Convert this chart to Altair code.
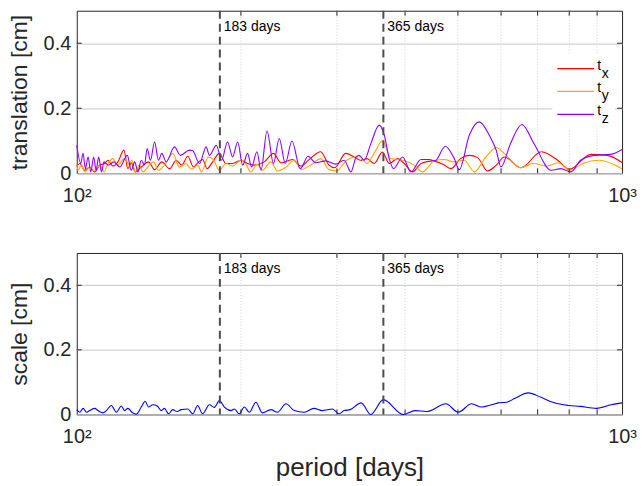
import altair as alt
import pandas as pd

FONT = "Liberation Sans"
W, H1, H2 = 547, 163, 162

# ---------------- data ----------------
tx_period = [100, 101.3, 103.4, 105.6, 107.9, 110.2, 112.5, 114.1, 116.5, 119.0, 122.0, 124.1, 125.9, 128.0,
             131.3, 135.4, 138.9, 143.2, 148.0, 152.2, 155.8, 159.8, 163.7, 166.6, 170.1, 173.4, 177.5, 182.6,
             187.7, 193.1, 200.1, 205.7, 211.6, 220.8, 229.5, 236.8, 248.7, 257.6, 266.7, 280.1, 290.2, 297.2,
             311.3, 322.8, 331.3, 340.5, 351.1, 363.6, 374.1, 387.5, 398.6, 412.9, 427.8, 449.3, 468.6, 485.5,
             505.6, 524.6, 543.4, 566.8, 588.0, 608.2, 652.6, 711.2, 761.8, 800.2, 876.5, 939.2, 1000]
tx_value = [0.022, 0.030, 0.009, 0.019, 0.004, 0.025, 0.030, 0.040, 0.022, 0.035, 0.071, 0.014, 0.032, 0.004,
            0.019, 0.035, 0.011, 0.035, 0.014, 0.040, 0.025, 0.052, 0.019, 0.032, 0.042, 0.014, 0.035, 0.061,
            0.030, 0.030, 0.040, 0.030, 0.025, 0.035, 0.061, 0.032, 0.042, 0.022, 0.042, 0.066, 0.025, 0.017,
            0.061, 0.050, 0.040, 0.045, 0.030, 0.065, 0.030, 0.045, 0.030, 0.004, 0.030, 0.038, 0.028, 0.014,
            0.045, 0.055, 0.048, 0.007, 0.025, 0.050, 0.017, 0.066, 0.040, 0.012, 0.058, 0.055, 0.033]

ty_period = [100, 100.5, 102.0, 103.4, 105.6, 107.9, 110.2, 112.2, 114.1, 116.5, 118.7, 122.4, 124.5, 126.2,
             128.0, 130.4, 132.2, 135.4, 138.3, 141.2, 144.8, 150.0, 154.2, 158.6, 162.4, 166.6, 169.4, 174.3,
             178.3, 182.6, 187.7, 193.1, 200.1, 204.3, 208.5, 214.3, 218.9, 227.0, 233.4, 242.0, 250.5, 258.2,
             268.6, 280.1, 290.2, 299.8, 312.6, 325.4, 331.3, 340.5, 351.1, 363.6, 376.8, 395.8, 412.9, 430.7,
             452.2, 472.0, 492.3, 513.6, 535.8, 562.9, 588.0, 608.2, 652.6, 687.3, 727.0, 763.4, 803.6, 847.0,
             907.8, 1000]
ty_value = [0.030, 0.009, 0.025, 0.004, 0.019, 0.007, 0.025, 0.004, 0.030, 0.045, 0.025, 0.045, 0.028, 0.040,
            0.004, 0.025, 0.004, 0.022, 0.035, 0.009, 0.025, 0.061, 0.019, 0.030, 0.012, 0.025, 0.004, 0.050,
            0.040, 0.009, 0.030, 0.022, 0.040, 0.028, 0.004, 0.028, 0.009, 0.035, 0.007, 0.019, 0.040, 0.011,
            0.025, 0.045, 0.011, 0.007, 0.040, 0.050, 0.050, 0.030, 0.062, 0.100, 0.045, 0.040, 0.028, 0.004,
            0.038, 0.042, 0.035, 0.040, 0.004, 0.050, 0.079, 0.061, 0.017, 0.030, 0.022, 0.032, 0.009, 0.030,
            0.040, 0.014]

tz_period = [100, 101.7, 102.7, 103.7, 104.9, 106.1, 107.4, 108.5, 109.7, 111.0, 112.2, 114.1, 117.0, 119.9,
             123.8, 125.9, 127.7, 129.5, 131.3, 133.1, 134.6, 136.5, 138.9, 141.2, 143.2, 145.9, 151.1, 154.9,
             161.0, 163.2, 167.9, 172.7, 175.1, 180.3, 184.3, 189.0, 193.1, 197.3, 201.5, 205.7, 209.2, 214.0,
             217.7, 223.3, 229.5, 235.1, 241.2, 248.1, 256.9, 265.6, 274.3, 286.1, 298.5, 309.3, 318.2, 325.4,
             329.6, 336.6, 346.2, 358.6, 366.4, 374.1, 381.0, 395.8, 410.1, 427.8, 443.1, 453.9, 474.1, 492.3,
             502.9, 524.6, 547.3, 570.8, 588.0, 599.7, 623.9, 655.0, 690.0, 741.0, 771.9, 805.5, 839.5, 888.8,
             952.8, 1000]
tz_value = [0.086, 0.030, 0.061, 0.014, 0.050, 0.004, 0.050, 0.009, 0.050, 0.004, 0.035, 0.025, 0.035, 0.019,
            0.055, 0.009, 0.035, 0.004, 0.040, 0.025, 0.076, 0.040, 0.096, 0.040, 0.061, 0.035, 0.081, 0.055,
            0.071, 0.069, 0.030, 0.081, 0.055, 0.086, 0.040, 0.096, 0.050, 0.096, 0.025, 0.061, 0.019, 0.066,
            0.009, 0.130, 0.030, 0.107, 0.030, 0.099, 0.014, 0.052, 0.032, 0.038, 0.028, 0.040, 0.004, 0.050,
            0.055, 0.040, 0.091, 0.148, 0.117, 0.045, 0.014, 0.050, 0.004, 0.042, 0.042, 0.038, 0.083, 0.045,
            0.011, 0.117, 0.158, 0.117, 0.070, 0.019, 0.090, 0.150, 0.090, 0.009, 0.014, 0.004, 0.040, 0.055,
            0.058, 0.073]

scale_period = [100, 101.3, 102.7, 104.2, 105.6, 107.9, 109.4, 111.7, 113.3, 115.7, 118.2, 120.7, 122.4, 124.1,
                126.2, 128.6, 131.3, 133.5, 135.4, 137.9, 140.5, 142.9, 144.8, 147.3, 150.0, 152.8, 155.4, 159.8,
                163.2, 166.6, 170.1, 175.1, 178.8, 182.6, 186.5, 191.9, 194.5, 198.6, 202.9, 207.2, 213.1, 218.9,
                227.0, 233.4, 242.0, 250.5, 261.2, 272.4, 282.1, 294.3, 302.8, 309.3, 317.2, 332.2, 346.2, 364.8,
                397.0, 417.1, 438.2, 475.2, 500.7, 529.8, 552.6, 576.4, 593.0, 614.2, 636.4, 673.0, 710.2, 751.3,
                796.9, 837.5, 897.5, 955.3, 1000]
scale_value = [0.015, 0.007, 0.019, 0.007, 0.012, 0.019, 0.012, 0.005, 0.012, 0.028, 0.007, 0.026, 0.012, 0.019,
               0.007, 0.001, 0.023, 0.041, 0.023, 0.030, 0.026, 0.012, 0.019, 0.002, 0.015, 0.009, 0.015, 0.017,
               0.002, 0.028, 0.002, 0.030, 0.022, 0.043, 0.023, 0.012, 0.017, 0.002, 0.023, 0.007, 0.038, 0.005,
               0.015, 0.007, 0.033, 0.012, 0.007, 0.019, 0.012, 0.017, 0.002, 0.012, 0.015, 0.036, 0.000, 0.046,
               0.000, 0.012, 0.009, 0.033, 0.007, 0.033, 0.023, 0.030, 0.036, 0.038, 0.050, 0.067, 0.053, 0.036,
               0.028, 0.025, 0.019, 0.030, 0.036]

series_names = ["tx", "ty", "tz"]
series_subs = ["x", "y", "z"]
series_colors = ["#ff0000", "#ffa500", "#8f00ff"]
scale_color = "#0000ff"

minor_periods = [200, 300, 400, 500, 600, 700, 800, 900]
event_periods = [183, 365]
event_labels = ["183 days", "365 days"]
y_tick_values = [0, 0.2, 0.4]
x_tick_values = [100, 1000]

# ---------------- tables ----------------
top_df = pd.concat([
    pd.DataFrame({"period": tx_period, "value": tx_value, "series": "tx"}),
    pd.DataFrame({"period": ty_period, "value": ty_value, "series": "ty"}),
    pd.DataFrame({"period": tz_period, "value": tz_value, "series": "tz"}),
], ignore_index=True)
bot_df = pd.DataFrame({"period": scale_period, "value": scale_value})
minor_df = pd.DataFrame({"period": minor_periods})
event_df = pd.DataFrame({"period": event_periods, "label": event_labels})
ytick_df = pd.DataFrame({"value": [v for v in y_tick_values if v > 0]})
one = pd.DataFrame({"a": [0]})

xscale = alt.Scale(type="log", domain=[100, 1000], nice=False)
yscale = alt.Scale(domain=[0, 0.5], nice=False)


def make_panel(df, ytitle, xtitle, h, legend):
    xaxis = alt.Axis(values=x_tick_values,
                     labelExpr="datum.value == 100 ? '10²' : '10³'",
                     title=xtitle, grid=False, ticks=False, domain=False,
                     labelFontSize=20, labelPadding=12, labelFlush=False,
                     titleFontSize=26, titlePadding=8)
    yaxis = alt.Axis(values=y_tick_values,
                     labelExpr="datum.value == 0 ? '0' : format(datum.value, '.1f')",
                     title=ytitle, grid=True, gridColor="#c8c8c8", gridWidth=1,
                     ticks=False, domain=False, labelFontSize=20, labelPadding=6,
                     titleFontSize=23, titlePadding=12)
    x_enc = alt.X("period:Q", scale=xscale, axis=xaxis)
    y_enc = alt.Y("value:Q", scale=yscale, axis=yaxis)

    layers = []
    layers.append(alt.Chart(minor_df).mark_rule(color="#cfcfcf", strokeDash=[1, 2], strokeWidth=1)
                  .encode(x=x_enc))
    if legend:
        layers.append(alt.Chart(df).mark_line(strokeWidth=1.1, interpolate="monotone")
                      .encode(x=x_enc, y=y_enc,
                              color=alt.Color("series:N",
                                              scale=alt.Scale(domain=series_names, range=series_colors),
                                              legend=None)))
    else:
        layers.append(alt.Chart(df).mark_line(strokeWidth=1.1, interpolate="monotone", color=scale_color)
                      .encode(x=x_enc, y=y_enc))
    layers.append(alt.Chart(event_df).mark_rule(color="#4d4d4d", strokeDash=[8, 5], strokeWidth=2)
                  .encode(x=x_enc))
    layers.append(alt.Chart(event_df).mark_text(align="left", baseline="middle", dx=4, fontSize=14,
                                                font=FONT, color="black")
                  .encode(x=x_enc, y=alt.value(16), text="label:N"))
    if legend:
        layers.append(alt.Chart(one).mark_rect(color="white")
                      .encode(x=alt.value(477), x2=alt.value(540), y=alt.value(43), y2=alt.value(118)))
        for i, (sub, col) in enumerate(zip(series_subs, series_colors)):
            yy = 58 + 23 * i
            layers.append(alt.Chart(one).mark_rule(color=col, strokeWidth=1.3)
                          .encode(x=alt.value(482), x2=alt.value(519), y=alt.value(yy)))
            layers.append(alt.Chart(one).mark_text(text="t", align="left", baseline="alphabetic",
                                                   fontSize=14, font=FONT, color="black")
                          .encode(x=alt.value(522), y=alt.value(yy + 1)))
            layers.append(alt.Chart(one).mark_text(text=sub, align="left", baseline="alphabetic",
                                                   fontSize=14, font=FONT, color="black")
                          .encode(x=alt.value(526.5), y=alt.value(yy + 9)))
    # inward ticks (box style)
    layers.append(alt.Chart(minor_df).mark_rule(color="#262626")
                  .encode(x=x_enc, y=alt.value(h), y2=alt.value(h - 5)))
    layers.append(alt.Chart(minor_df).mark_rule(color="#262626")
                  .encode(x=x_enc, y=alt.value(0), y2=alt.value(5)))
    layers.append(alt.Chart(ytick_df).mark_rule(color="#262626")
                  .encode(y=y_enc, x=alt.value(0), x2=alt.value(5)))
    layers.append(alt.Chart(ytick_df).mark_rule(color="#262626")
                  .encode(y=y_enc, x=alt.value(W - 5), x2=alt.value(W)))
    return alt.layer(*layers).properties(width=W, height=h)


top = make_panel(top_df, "translation [cm]", None, H1, True)
bottom = make_panel(bot_df, "scale [cm]", "period [days]", H2, False)

chart = (alt.vconcat(top, bottom, spacing=45)
         .properties(padding={"left": 7, "top": 8, "right": 5, "bottom": 5}, background="white")
         .configure_view(stroke="#262626", strokeWidth=1)
         .configure_axis(labelFont=FONT, titleFont=FONT, labelColor="#262626",
                         titleColor="#262626", titleFontWeight="normal"))

chart.save("out.html", embed_options={"renderer": "svg", "actions": False})
